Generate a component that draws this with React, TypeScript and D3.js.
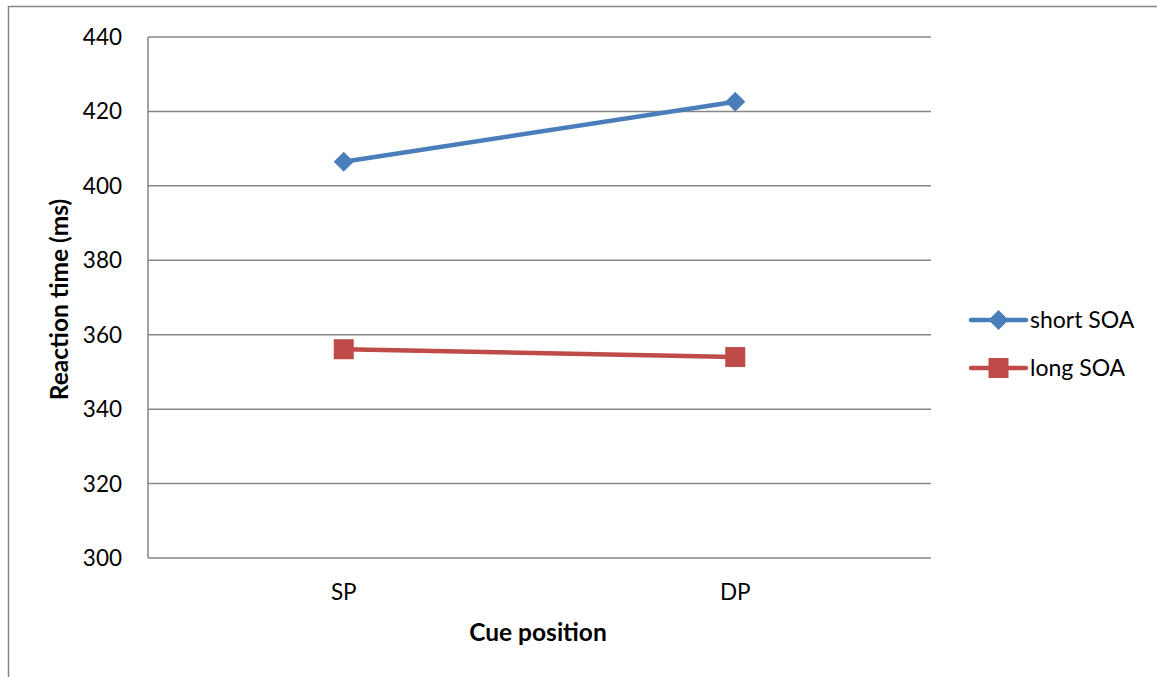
import React from "react";
import * as d3 from "d3";

const categories = ["SP", "DP"];
const shortSOA = [406.5, 422.6];
const longSOA = [356.1, 354.0];
const yTicks = [300, 320, 340, 360, 380, 400, 420, 440];
const seriesNames = ["short SOA", "long SOA"];
const seriesColors = ["#4A7EBB", "#BE4B48"];

const W = 1157;
const H = 677;
const plot = { left: 148, top: 37, right: 931, bottom: 558 };
const FONT = "Lato, 'Noto Sans', sans-serif";

export default function App() {
  const x = d3
    .scaleBand<string>()
    .domain(categories)
    .range([plot.left, plot.right]);
  const y = d3.scaleLinear().domain([300, 440]).range([plot.bottom, plot.top]);
  const cx = (c: string) => (x(c) ?? 0) + x.bandwidth() / 2;

  const line = d3
    .line<number>()
    .x((_, i) => cx(categories[i]))
    .y((v) => y(v));

  const series = [shortSOA, longSOA];
  const diamond = (px: number, py: number, r: number) =>
    `M${px},${py - r}L${px + r},${py}L${px},${py + r}L${px - r},${py}Z`;

  const marker = (k: number, px: number, py: number) =>
    k === 0 ? (
      <path d={diamond(px, py, 10)} fill={seriesColors[0]} />
    ) : (
      <rect x={px - 10} y={py - 10} width={20} height={20} fill={seriesColors[1]} />
    );

  const legendY = [320, 368];

  return (
    <svg
      width={W}
      height={H}
      style={{ position: "absolute", left: 0, top: 0, background: "#fff" }}
      fontFamily={FONT}
    >
      <rect x={8.5} y={6.5} width={W + 10} height={H + 10} fill="none" stroke="#868686" strokeWidth={1.5} />

      {/* horizontal gridlines */}
      {yTicks.map((t) => (
        <line
          key={t}
          x1={plot.left}
          x2={plot.right}
          y1={y(t)}
          y2={y(t)}
          stroke="#868686"
          strokeWidth={1.5}
        />
      ))}
      <line x1={plot.left} x2={plot.left} y1={plot.top} y2={plot.bottom} stroke="#868686" strokeWidth={1.5} />

      {/* y tick labels */}
      {yTicks.map((t) => (
        <text key={t} x={122} y={y(t) + 8} textAnchor="end" fontSize={22.5} fill="#000">
          {t}
        </text>
      ))}

      {/* x tick labels */}
      {categories.map((c) => (
        <text key={c} x={cx(c)} y={600} textAnchor="middle" fontSize={22.5} fill="#000">
          {c}
        </text>
      ))}

      {/* axis titles */}
      <text x={538} y={641} textAnchor="middle" fontSize={24.5} fontWeight="bold" fill="#000">
        Cue position
      </text>
      <text
        transform={`translate(68, ${(plot.top + plot.bottom) / 2 + 2}) rotate(-90)`}
        textAnchor="middle"
        fontSize={24.5}
        fontWeight="bold"
        fill="#000"
      >
        Reaction time (ms)
      </text>

      {/* series */}
      {series.map((vals, k) => (
        <g key={k}>
          <path d={line(vals) ?? ""} fill="none" stroke={seriesColors[k]} strokeWidth={4.5} strokeLinecap="round" />
          {vals.map((v, i) => (
            <g key={i}>{marker(k, cx(categories[i]), y(v))}</g>
          ))}
        </g>
      ))}

      {/* legend */}
      {seriesNames.map((name, k) => (
        <g key={name}>
          <line
            x1={971}
            x2={1026}
            y1={legendY[k]}
            y2={legendY[k]}
            stroke={seriesColors[k]}
            strokeWidth={4.5}
            strokeLinecap="round"
          />
          {marker(k, 998.5, legendY[k])}
          <text x={1030} y={legendY[k] + 8} fontSize={23} fill="#000">
            {name}
          </text>
        </g>
      ))}
    </svg>
  );
}
